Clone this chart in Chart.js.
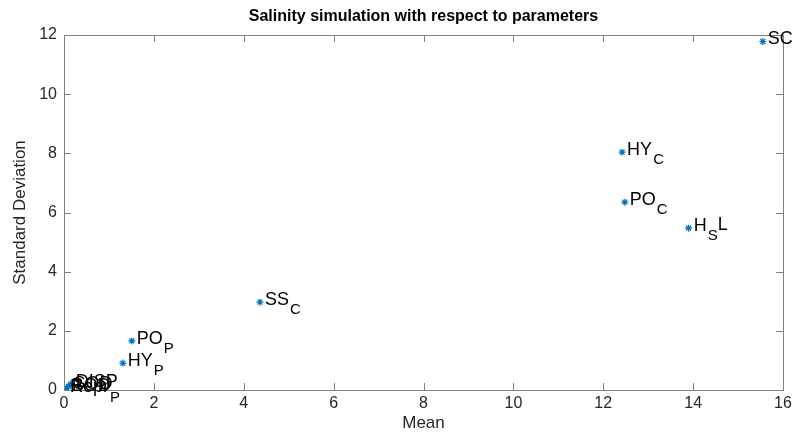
<!DOCTYPE html>
<html>
<head>
<meta charset="utf-8">
<script src="https://cdn.jsdelivr.net/npm/chart.js@4"></script>
<style>
  html, body { margin: 0; padding: 0; background: #fff; }
  #wrap { width: 797px; height: 438px; }
</style>
</head>
<body>
<div id="wrap"><canvas id="scatter" width="797" height="438"></canvas></div>
<script>
// Data
const names    = ['SC', 'HY', 'PO', 'H', 'SS', 'PO', 'HY', 'DISP', 'SOD', 'BOD', 'Repr'];
const subs     = ['', 'C', 'C', 'S', 'C', 'P', 'P', '', '', '', 'P'];
const suffixes = ['', '', '', 'L', '', '', '', '', '', '', ''];
const meanVals = [15.55, 12.42, 12.48, 13.9, 4.36, 1.51, 1.31, 0.15, 0.10, 0.06, 0.02];
const stdVals  = [11.78, 8.04, 6.35, 5.47, 2.97, 1.66, 0.91, 0.20, 0.12, 0.08, 0.02];

const xTicks = [0, 2, 4, 6, 8, 10, 12, 14, 16];
const yTicks = [0, 2, 4, 6, 8, 10, 12];

const FONT = '"Liberation Sans", Arial, sans-serif';
const TXT = '#262626';
const AXIS = '#808080';

// box with inward ticks, title and point labels
const matlabLook = {
  id: 'matlabLook',
  afterDraw(chart) {
    const { ctx, chartArea: a, scales } = chart;
    ctx.save();
    ctx.strokeStyle = AXIS;
    ctx.lineWidth = 1;
    ctx.strokeRect(a.left + 0.5, a.top + 0.5, a.right - a.left, a.bottom - a.top);
    ctx.beginPath();
    xTicks.forEach(v => {
      const px = Math.round(scales.x.getPixelForValue(v)) + 0.5;
      ctx.moveTo(px, a.bottom); ctx.lineTo(px, a.bottom - 7);
      ctx.moveTo(px, a.top); ctx.lineTo(px, a.top + 7);
    });
    yTicks.forEach(v => {
      const py = Math.round(scales.y.getPixelForValue(v)) + 0.5;
      ctx.moveTo(a.left, py); ctx.lineTo(a.left + 7, py);
      ctx.moveTo(a.right, py); ctx.lineTo(a.right - 7, py);
    });
    ctx.stroke();

    // title
    ctx.fillStyle = '#000';
    ctx.font = 'bold 16px ' + FONT;
    ctx.textAlign = 'center';
    ctx.textBaseline = 'middle';
    ctx.fillText('Salinity simulation with respect to parameters', (a.left + a.right) / 2, 17);

    // point labels
    ctx.textAlign = 'left';
    ctx.textBaseline = 'middle';
    const meta = chart.getDatasetMeta(0);
    meta.data.forEach((pt, i) => {
      let x = pt.x + 5;
      const y = pt.y - 2;
      ctx.font = '18px ' + FONT;
      ctx.fillStyle = '#000';
      ctx.fillText(names[i], x, y);
      x += ctx.measureText(names[i]).width;
      if (subs[i]) {
        ctx.font = '15px ' + FONT;
        ctx.fillText(subs[i], x + 1, y + 10);
        x += ctx.measureText(subs[i]).width + 1;
      }
      if (suffixes[i]) {
        ctx.font = '18px ' + FONT;
        ctx.fillText(suffixes[i], x, y - 1);
      }
    });
    ctx.restore();
  }
};

const points = meanVals.map((m, i) => ({ x: m, y: stdVals[i] }));

new Chart(document.getElementById('scatter'), {
  type: 'scatter',
  data: {
    datasets: [{
      data: points,
      pointStyle: 'star',
      radius: 3.5,
      borderWidth: 1.2,
      borderColor: '#0072BD',
      backgroundColor: '#0072BD'
    }]
  },
  options: {
    responsive: false,
    animation: false,
    layout: { padding: { top: 35, right: 14, left: 0, bottom: 0 } },
    plugins: {
      legend: { display: false },
      tooltip: { enabled: false },
      title: { display: false }
    },
    scales: {
      x: {
        type: 'linear',
        min: 0, max: 16,
        afterBuildTicks: s => { s.ticks = xTicks.map(v => ({ value: v })); },
        afterFit: s => { s.height = 48; },
        grid: { display: false, drawTicks: false },
        border: { display: false },
        ticks: { color: TXT, font: { family: FONT, size: 16 }, padding: 4 },
        title: { display: true, text: 'Mean', color: TXT, font: { family: FONT, size: 17 }, padding: { top: 0 } }
      },
      y: {
        type: 'linear',
        min: 0, max: 12,
        afterBuildTicks: s => { s.ticks = yTicks.map(v => ({ value: v })); },
        afterFit: s => { s.width = 64; },
        grid: { display: false, drawTicks: false },
        border: { display: false },
        ticks: { color: TXT, font: { family: FONT, size: 16 }, padding: 7 },
        title: { display: true, text: 'Standard Deviation', color: TXT, font: { family: FONT, size: 17 }, padding: { top: 10, bottom: 0 } }
      }
    }
  },
  plugins: [matlabLook]
});
</script>
</body>
</html>
